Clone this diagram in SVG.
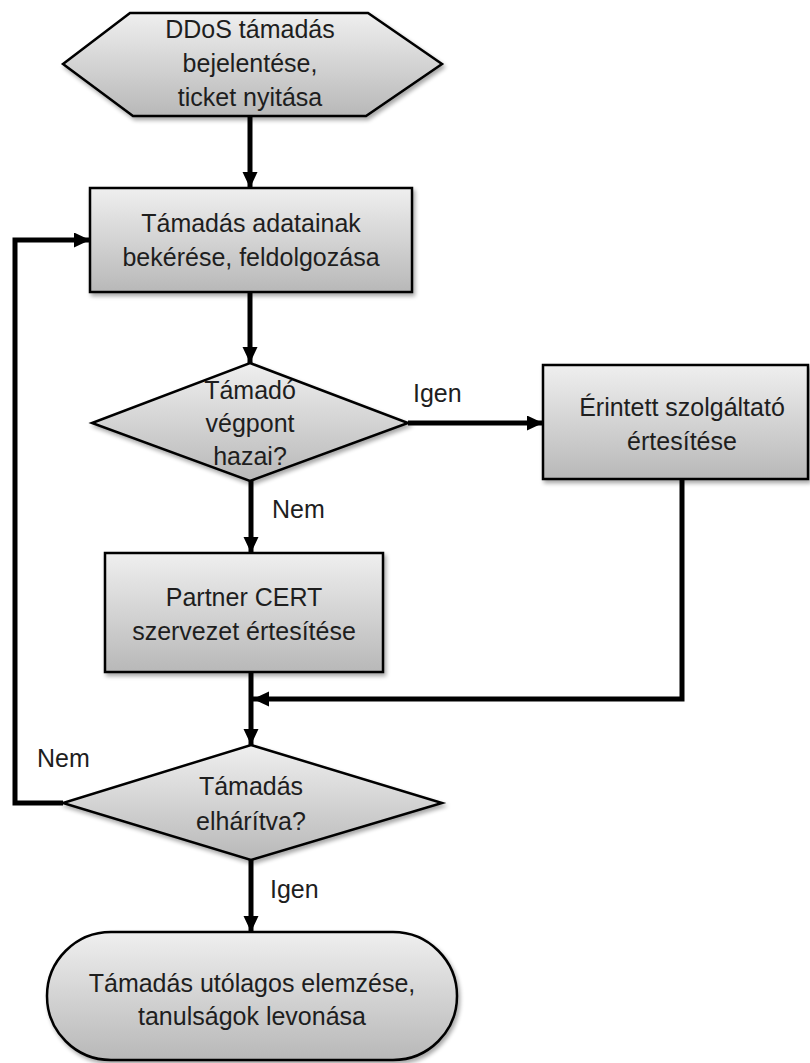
<svg xmlns="http://www.w3.org/2000/svg" width="810" height="1063" viewBox="0 0 810 1063">
  <defs>
    <linearGradient id="fillGrad" x1="0" y1="0" x2="0" y2="1">
      <stop offset="0" stop-color="#efefef"/>
      <stop offset="1" stop-color="#b8b8b8"/>
    </linearGradient>
    <filter id="shadow" x="-10%" y="-10%" width="125%" height="130%">
      <feGaussianBlur in="SourceAlpha" stdDeviation="2"/>
      <feOffset dx="2" dy="3" result="off"/>
      <feComponentTransfer><feFuncA type="linear" slope="0.35"/></feComponentTransfer>
      <feMerge><feMergeNode/><feMergeNode in="SourceGraphic"/></feMerge>
    </filter>
    <marker id="arrow" markerUnits="userSpaceOnUse" markerWidth="18" markerHeight="16" refX="16" refY="7.5" orient="auto">
      <path d="M0,0 L16,7.5 L0,15 z" fill="#000"/>
    </marker>
    <style>
      .shape { fill: url(#fillGrad); stroke: #000; stroke-width: 2.5; filter: url(#shadow); }
      .lbl { font-family: "Liberation Sans", Arial, sans-serif; font-size: 25px; fill: #1e1e1e; text-anchor: middle; }
      .edge-lbl { font-family: "Liberation Sans", Arial, sans-serif; font-size: 25px; fill: #1e1e1e; }
      .conn { fill: none; stroke: #000; stroke-width: 5; }
      .conn-arrow { fill: none; stroke: #000; stroke-width: 5; marker-end: url(#arrow); }
    </style>
  </defs>

  <!-- connectors -->
  <g id="connectors">
    <line class="conn-arrow" x1="250" y1="116" x2="250" y2="188"/>
    <line class="conn-arrow" x1="250" y1="292" x2="250" y2="363"/>
    <line class="conn-arrow" x1="408" y1="423" x2="543" y2="423"/>
    <line class="conn-arrow" x1="251" y1="481" x2="251" y2="553"/>
    <line class="conn-arrow" x1="251" y1="672" x2="251" y2="745"/>
    <polyline class="conn-arrow" points="682,479 682,699 253,699"/>
    <polyline class="conn-arrow" points="63,803 15,803 15,240 90,240"/>
    <line class="conn-arrow" x1="251" y1="860" x2="251" y2="932"/>
    <text class="edge-lbl" x="413" y="402">Igen</text>
    <text class="edge-lbl" x="272" y="518">Nem</text>
    <text class="edge-lbl" x="37" y="767">Nem</text>
    <text class="edge-lbl" x="270" y="898">Igen</text>
  </g>

  <!-- start: incident report -->
  <g id="start">
    <polygon class="shape" points="63,64 130,13 368,13 442,64 366,116 133,116"/>
    <text class="lbl" x="250" y="38">DDoS támadás</text>
    <text class="lbl" x="250" y="72">bejelentése,</text>
    <text class="lbl" x="250" y="106">ticket nyitása</text>
  </g>

  <!-- collect attack data -->
  <g id="collect">
    <rect class="shape" x="90" y="188" width="322" height="104"/>
    <text class="lbl" x="251" y="232">Támadás adatainak</text>
    <text class="lbl" x="251" y="266">bekérése, feldolgozása</text>
  </g>

  <!-- decision: domestic endpoint -->
  <g id="domestic">
    <polygon class="shape" points="250,363 408,423 250,481 92,423"/>
    <text class="lbl" x="250" y="399">Támadó</text>
    <text class="lbl" x="250" y="432">végpont</text>
    <text class="lbl" x="250" y="465">hazai?</text>
  </g>

  <!-- notify provider -->
  <g id="provider">
    <rect class="shape" x="543" y="365" width="265" height="114"/>
    <text class="lbl" x="682" y="416">Érintett szolgáltató</text>
    <text class="lbl" x="682" y="450">értesítése</text>
  </g>

  <!-- notify partner CERT -->
  <g id="partner">
    <rect class="shape" x="105" y="553" width="278" height="119"/>
    <text class="lbl" x="244" y="606">Partner CERT</text>
    <text class="lbl" x="244" y="640">szervezet értesítése</text>
  </g>

  <!-- decision: attack mitigated -->
  <g id="mitigated">
    <polygon class="shape" points="251,745 442,803 251,860 63,803"/>
    <text class="lbl" x="251" y="795">Támadás</text>
    <text class="lbl" x="251" y="830">elhárítva?</text>
  </g>

  <!-- end: post-incident review -->
  <g id="review">
    <rect class="shape" x="47" y="932" width="410" height="128" rx="64" ry="64"/>
    <text class="lbl" x="252" y="992">Támadás utólagos elemzése,</text>
    <text class="lbl" x="252" y="1025">tanulságok levonása</text>
  </g>
</svg>
